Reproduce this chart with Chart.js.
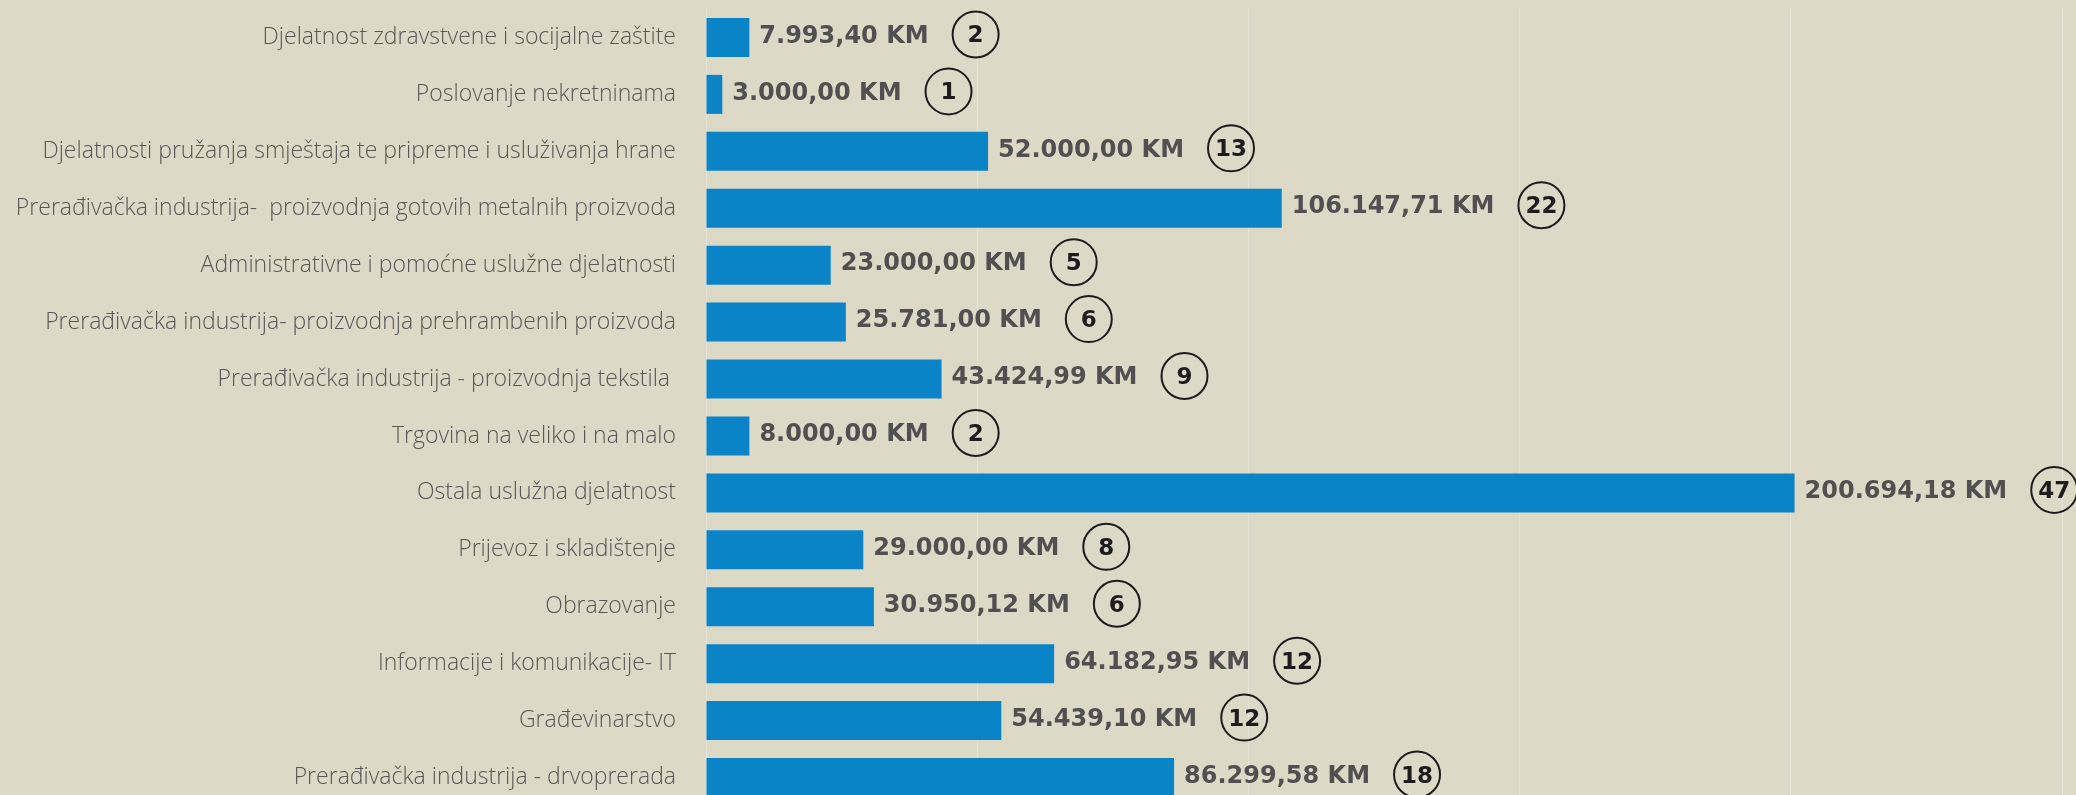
<!DOCTYPE html>
<html>
<head>
<meta charset="utf-8">
<script src="https://cdn.jsdelivr.net/npm/chart.js@4.4.1/dist/chart.umd.min.js"></script>
<style>
  html, body { margin: 0; padding: 0; background: #dcd9c7; overflow: hidden; }
  .wrap { width: 2076px; height: 795px; overflow: hidden; }
</style>
</head>
<body>
<div class="wrap"><canvas id="myChart" width="2076" height="815"></canvas></div>
<script>
const categories = [
  'Djelatnost zdravstvene i socijalne zaštite',
  'Poslovanje nekretninama',
  'Djelatnosti pružanja smještaja te pripreme i usluživanja hrane',
  'Prerađivačka industrija-  proizvodnja gotovih metalnih proizvoda',
  'Administrativne i pomoćne uslužne djelatnosti',
  'Prerađivačka industrija- proizvodnja prehrambenih proizvoda',
  'Prerađivačka industrija - proizvodnja tekstila ',
  'Trgovina na veliko i na malo',
  'Ostala uslužna djelatnost',
  'Prijevoz i skladištenje',
  'Obrazovanje',
  'Informacije i komunikacije- IT',
  'Građevinarstvo',
  'Prerađivačka industrija - drvoprerada'
];
const amounts = [7993.40, 3000, 52000, 106147.71, 23000, 25781, 43424.99, 8000, 200694.18, 29000, 30950.12, 64182.95, 54439.10, 86299.58];
const counts = [2, 1, 13, 22, 5, 6, 9, 2, 47, 8, 6, 12, 12, 18];
const axisTicks = [0, 50000, 100000, 150000, 200000, 250000];

// 1234567.8 -> 1.234.567,80 KM
function formatKM(v) {
  const parts = v.toFixed(2).split('.');
  const whole = parts[0].replace(/\B(?=(\d{3})+(?!\d))/g, '.');
  return whole + ',' + parts[1] + ' KM';
}

/* labels + circled counts */
const valueLabels = {
  id: 'valueLabels',
  afterDatasetsDraw(chart) {
    const c = chart.ctx;
    const meta = chart.getDatasetMeta(0);
    c.save();
    meta.data.forEach(function (bar, i) {
      const txt = formatKM(amounts[i]);
      c.font = 'bold 24px "DejaVu Sans"';
      c.fillStyle = '#505050';
      c.textAlign = 'left';
      c.textBaseline = 'middle';
      c.fillText(txt, bar.x + 10, bar.y - 1);
      const end = bar.x + 10 + c.measureText(txt).width;
      const cx = end + 47;
      const cy = bar.y - 3;
      c.beginPath();
      c.arc(cx, cy, 23, 0, Math.PI * 2);
      c.lineWidth = 2;
      c.strokeStyle = '#1c1c1c';
      c.stroke();
      c.font = 'bold 23px "DejaVu Sans"';
      c.fillStyle = '#1c1c1c';
      c.textAlign = 'center';
      c.fillText(String(counts[i]), cx, cy + 2);
    });
    c.restore();
  }
};

const ctx = document.getElementById('myChart').getContext('2d');

const chart = new Chart(ctx, {
  type: 'bar',
  data: {
    labels: categories,
    datasets: [
      {
        data: amounts,
        backgroundColor: '#0b84c7',
        borderWidth: 0,
        barPercentage: 0.685,
        categoryPercentage: 1,
      },
    ],
  },
  options: {
    indexAxis: 'y',
    responsive: false,
    animation: false,
    layout: { padding: { top: 9, bottom: 9, left: 0, right: 14 } },
    plugins: {
      legend: { display: false },
      tooltip: { enabled: false },
    },
    scales: {
      x: {
        min: axisTicks[0],
        max: axisTicks[axisTicks.length - 1],
        afterBuildTicks: function (scale) {
          scale.ticks = axisTicks.map(function (v) { return { value: v }; });
        },
        afterFit: function (scale) {
          scale.height = 0;
          scale.paddingLeft = 0;
          scale.paddingRight = 0;
        },
        ticks: { display: false },
        border: { display: false },
        grid: { color: 'rgba(255,255,255,0.28)', lineWidth: 1, drawTicks: false },
      },
      y: {
        afterFit: function (scale) {
          scale.width = 706;
          scale.paddingTop = 0;
          scale.paddingBottom = 0;
        },
        border: { display: false },
        grid: { display: false, drawTicks: false },
        ticks: {
          padding: 30,
          color: '#575757',
          font: { family: '"Open Sans"', size: 23, weight: 300 },
        },
      },
    },
  },
  plugins: [valueLabels],
});
</script>
</body>
</html>
